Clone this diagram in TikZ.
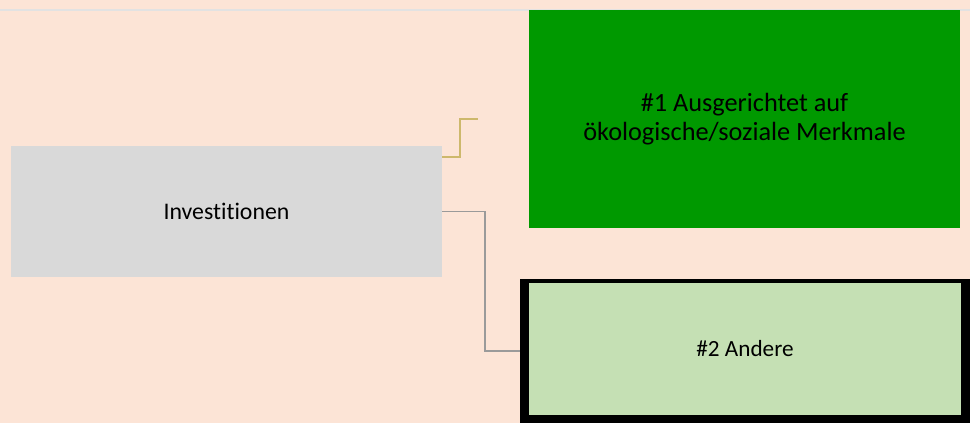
\documentclass[tikz,border=0pt]{standalone}
\usepackage{fontspec}
\setmainfont[Ligatures={NoCommon}]{Carlito}
\definecolor{bgpeach}{HTML}{FCE4D6}
\definecolor{boxgray}{HTML}{D9D9D9}
\definecolor{boxgreen}{HTML}{009900}
\definecolor{lightgreen}{HTML}{C5E0B4}
\definecolor{goldline}{HTML}{CDB86C}
\definecolor{greyline}{HTML}{9A9A9A}
\definecolor{topline}{HTML}{E2E2E2}
\tikzset{
  boxstyle/.style={rectangle, inner sep=0pt, outer sep=0pt, align=center, text=black},
  conn/.style={line width=1.3pt}
}
\begin{document}
\begin{tikzpicture}[x=1pt,y=-1pt]
\fill[bgpeach] (0,0) rectangle (970,423);
\useasboundingbox (0,0) rectangle (970,423);
\draw[topline, line width=2pt] (0,10) -- (970,10);
\node[boxstyle, fill=boxgray, minimum width=431pt, minimum height=131pt, font=\fontsize{23.8}{28}\selectfont] (g) at (226.5,211.5) {Investitionen};
\node[boxstyle, fill=boxgreen, minimum width=431pt, minimum height=218pt, font=\fontsize{26.3}{29}\selectfont] (a) at (744.5,119) {\#1 Ausgerichtet auf\\ökologische/soziale Merkmale};
\node[boxstyle, fill=black, minimum width=450pt, minimum height=144pt] (f) at (745,351) {};
\node[boxstyle, fill=lightgreen, minimum width=432pt, minimum height=132pt, font=\fontsize{23.2}{28}\selectfont] (b) at (745,349) {\#2 Andere};
\coordinate (gend) at (478,119);
\draw[conn, goldline] ([yshift=-11pt]g.north east) -- ++(18,0) |- (gend);
\draw[conn, greyline] (g.east) -- ++(43,0) |- (f.west);
\end{tikzpicture}
\end{document}
